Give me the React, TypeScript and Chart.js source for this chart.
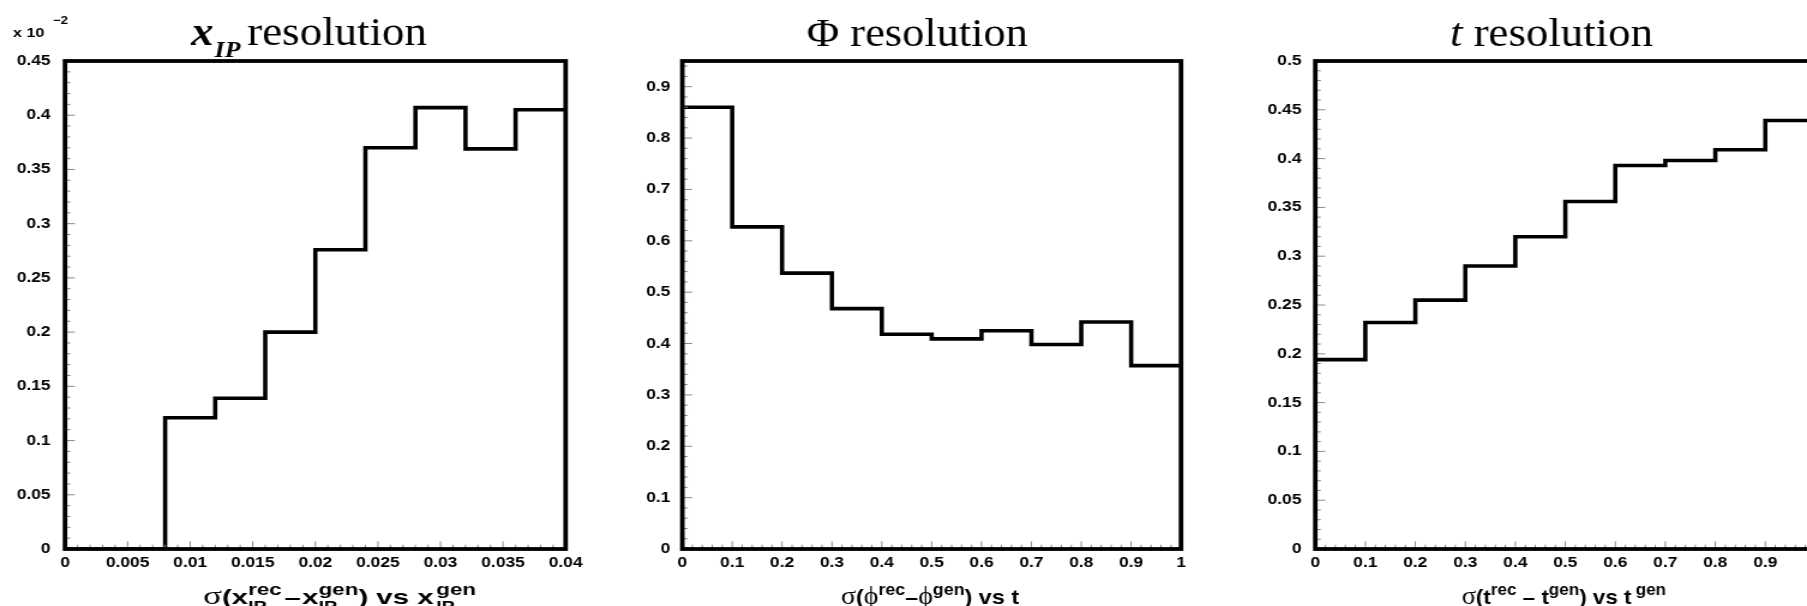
import React, { useEffect, useRef } from "react";
import { Chart, registerables } from "chart.js";

Chart.register(...registerables);

// ---------------- data ----------------
// Panel 1: x_IP resolution (values in units of 10^-2)
const xipEdges = [0, 0.004, 0.008, 0.012, 0.016, 0.02, 0.024, 0.028, 0.032, 0.036, 0.04];
const xipValues = [0, 0, 0.121, 0.139, 0.2, 0.276, 0.37, 0.407, 0.369, 0.405];
const xipXTicks = [0, 0.005, 0.01, 0.015, 0.02, 0.025, 0.03, 0.035, 0.04];
const xipXLabels = ["0", "0.005", "0.01", "0.015", "0.02", "0.025", "0.03", "0.035", "0.04"];
const xipYTicks = [0, 0.05, 0.1, 0.15, 0.2, 0.25, 0.3, 0.35, 0.4, 0.45];
const xipYLabels = ["0", "0.05", "0.1", "0.15", "0.2", "0.25", "0.3", "0.35", "0.4", "0.45"];

// Panel 2: Phi resolution
const phiEdges = [0, 0.1, 0.2, 0.3, 0.4, 0.5, 0.6, 0.7, 0.8, 0.9, 1];
const phiValues = [0.86, 0.627, 0.537, 0.468, 0.418, 0.409, 0.425, 0.398, 0.442, 0.357];
const phiXTicks = [0, 0.1, 0.2, 0.3, 0.4, 0.5, 0.6, 0.7, 0.8, 0.9, 1];
const phiXLabels = ["0", "0.1", "0.2", "0.3", "0.4", "0.5", "0.6", "0.7", "0.8", "0.9", "1"];
const phiYTicks = [0, 0.1, 0.2, 0.3, 0.4, 0.5, 0.6, 0.7, 0.8, 0.9];
const phiYLabels = ["0", "0.1", "0.2", "0.3", "0.4", "0.5", "0.6", "0.7", "0.8", "0.9"];

// Panel 3: t resolution
const tEdges = [0, 0.1, 0.2, 0.3, 0.4, 0.5, 0.6, 0.7, 0.8, 0.9, 1];
const tValues = [0.194, 0.232, 0.255, 0.29, 0.32, 0.356, 0.393, 0.398, 0.409, 0.439];
const tXTicks = [0, 0.1, 0.2, 0.3, 0.4, 0.5, 0.6, 0.7, 0.8, 0.9, 1];
const tXLabels = ["0", "0.1", "0.2", "0.3", "0.4", "0.5", "0.6", "0.7", "0.8", "0.9", "1"];
const tYTicks = [0, 0.05, 0.1, 0.15, 0.2, 0.25, 0.3, 0.35, 0.4, 0.45, 0.5];
const tYLabels = ["0", "0.05", "0.1", "0.15", "0.2", "0.25", "0.3", "0.35", "0.4", "0.45", "0.5"];

// ---------------- styling / layout ----------------
const SX = 1.2; // the original figure is stretched horizontally
const H = 606;
const SERIF = '"Liberation Serif", "DejaVu Serif", "Times New Roman", serif';
const SANS = '"Liberation Sans", Arial, Helvetica, sans-serif';
const MAIN = `bold 21px ${SANS}`;
const SUPF = `bold 16px ${SANS}`;
const SUBF = `bold 14px ${SANS}`;
const SYM = `25px ${SERIF}`;
const TTL = `40px ${SERIF}`;
const XT_BASE = 604;

type Seg = { t?: string; f?: string; dy?: number; gap?: number; sub?: string; sup?: string };

interface Panel {
  cssLeft: number;
  cssWidth: number;
  plotLeft: number;
  plotRight: number;
  edges: number[];
  values: number[];
  xTicks: number[];
  xLabels: string[];
  yTicks: number[];
  yLabels: string[];
  xMin: number;
  xMax: number;
  yMax: number;
  yPad: number;
  title: Seg[];
  titleCx: number;
  titleBase: number;
  titleW: number;
  xTitle: Seg[];
  xTitleCx: number;
  xTitleW: number;
  exponent?: boolean;
}

const panels: Panel[] = [
  {
    cssLeft: 0,
    cssWidth: 600,
    plotLeft: 65,
    plotRight: 565.6,
    edges: xipEdges,
    values: xipValues,
    xTicks: xipXTicks,
    xLabels: xipXLabels,
    yTicks: xipYTicks,
    yLabels: xipYLabels,
    xMin: 0,
    xMax: 0.04,
    yMax: 0.45,
    yPad: 12,
    title: [
      { t: "x", f: `italic bold 40px ${SERIF}` },
      { t: "IP", f: `italic bold 23px ${SERIF}`, dy: 12, gap: 1 },
      { t: "resolution", f: TTL, gap: 6 },
    ],
    titleCx: 309,
    titleBase: 45,
    titleW: 236,
    xTitle: [
      { t: "σ", f: SYM },
      { t: "(x", f: MAIN },
      { sub: "IP", sup: "rec" },
      { t: "–", f: MAIN, gap: 2 },
      { t: "x", f: MAIN, gap: 1 },
      { sub: "IP", sup: "gen" },
      { t: ") vs x", f: MAIN },
      { sub: "IP", sup: "gen", gap: 2 },
    ],
    xTitleCx: 339.6,
    xTitleW: 273,
    exponent: true,
  },
  {
    cssLeft: 600,
    cssWidth: 606,
    plotLeft: 682.3,
    plotRight: 1181,
    edges: phiEdges,
    values: phiValues,
    xTicks: phiXTicks,
    xLabels: phiXLabels,
    yTicks: phiYTicks,
    yLabels: phiYLabels,
    xMin: 0,
    xMax: 1,
    yMax: 0.95,
    yPad: 10,
    title: [{ t: "Φ resolution", f: TTL }],
    titleCx: 917.3,
    titleBase: 46,
    titleW: 221,
    xTitle: [
      { t: "σ", f: SYM },
      { t: "(", f: MAIN },
      { t: "ϕ", f: SYM },
      { sup: "rec" },
      { t: "–", f: MAIN },
      { t: "ϕ", f: SYM },
      { sup: "gen" },
      { t: ") vs t", f: MAIN },
    ],
    xTitleCx: 930,
    xTitleW: 178,
  },
  {
    cssLeft: 1207,
    cssWidth: 660,
    plotLeft: 1315.3,
    plotRight: 1815.3,
    edges: tEdges,
    values: tValues,
    xTicks: tXTicks,
    xLabels: tXLabels,
    yTicks: tYTicks,
    yLabels: tYLabels,
    xMin: 0,
    xMax: 1,
    yMax: 0.5,
    yPad: 11.5,
    title: [
      { t: "t", f: `italic 40px ${SERIF}` },
      { t: " resolution", f: TTL },
    ],
    titleCx: 1551.4,
    titleBase: 46,
    titleW: 203,
    xTitle: [
      { t: "σ", f: SYM },
      { t: "(t", f: MAIN },
      { sup: "rec" },
      { t: " – t", f: MAIN },
      { sup: "gen" },
      { t: ") vs t", f: MAIN },
      { sup: "gen", gap: 4 },
    ],
    xTitleCx: 1563.8,
    xTitleW: 204.5,
  },
];

function drawRich(ctx: CanvasRenderingContext2D, segs: Seg[], cx: number, base: number, targetW: number) {
  let w = 0;
  const items: { x: number; s: Seg }[] = [];
  for (const s of segs) {
    w += s.gap || 0;
    items.push({ x: w, s });
    if (s.t !== undefined) {
      ctx.font = s.f || MAIN;
      w += ctx.measureText(s.t).width;
    } else {
      let m = 0;
      if (s.sub) {
        ctx.font = SUBF;
        m = Math.max(m, ctx.measureText(s.sub).width);
      }
      if (s.sup) {
        ctx.font = SUPF;
        m = Math.max(m, ctx.measureText(s.sup).width);
      }
      w += m;
    }
  }
  const fit = Math.min(1.3, Math.max(0.75, targetW / w));
  ctx.save();
  ctx.translate(cx - (w * fit) / 2, base);
  ctx.scale(fit, 1);
  ctx.fillStyle = "#000";
  ctx.textAlign = "left";
  ctx.textBaseline = "alphabetic";
  for (const it of items) {
    const s = it.s;
    if (s.t !== undefined) {
      ctx.font = s.f || MAIN;
      ctx.fillText(s.t, it.x, s.dy || 0);
    } else {
      if (s.sub) {
        ctx.font = SUBF;
        ctx.fillText(s.sub, it.x, 7);
      }
      if (s.sup) {
        ctx.font = SUPF;
        ctx.fillText(s.sup, it.x, -9);
      }
    }
  }
  ctx.restore();
}

function makeDecor(p: Panel) {
  return {
    id: "decor",
    afterDatasetsDraw(chart: any) {
      const { ctx, chartArea: a } = chart;
      const xs = chart.scales.x;
      const ys = chart.scales.y;
      const toX = (css: number) => (css - p.cssLeft) / SX;
      ctx.save();
      // inward tick marks (ROOT style)
      ctx.strokeStyle = "#8a8a8a";
      ctx.lineWidth = 1;
      ctx.beginPath();
      const xStep = (p.xTicks[1] - p.xTicks[0]) / 5;
      const nx = Math.floor((p.xMax - p.xMin) / xStep + 1e-6);
      for (let k = 0; k <= nx; k++) {
        const px = xs.getPixelForValue(p.xMin + k * xStep);
        ctx.moveTo(px, a.bottom);
        ctx.lineTo(px, a.bottom - (k % 5 === 0 ? 7.7 : 4.3));
      }
      const yStep = (p.yTicks[1] - p.yTicks[0]) / 5;
      const ny = Math.floor(p.yMax / yStep + 1e-6);
      for (let k = 0; k <= ny; k++) {
        const py = ys.getPixelForValue(k * yStep);
        ctx.moveTo(a.left, py);
        ctx.lineTo(a.left + (k % 5 === 0 ? 8.3 : 4.6), py);
      }
      ctx.stroke();
      // frame
      ctx.strokeStyle = "#000";
      ctx.lineWidth = 3.8;
      ctx.strokeRect(a.left, a.top, a.right - a.left, a.bottom - a.top);
      // titles
      drawRich(ctx, p.title, toX(p.titleCx), p.titleBase, p.titleW / SX);
      drawRich(ctx, p.xTitle, toX(p.xTitleCx), XT_BASE, p.xTitleW / SX);
      if (p.exponent) {
        ctx.fillStyle = "#000";
        ctx.textAlign = "left";
        ctx.textBaseline = "alphabetic";
        ctx.font = `bold 13.5px ${SANS}`;
        ctx.fillText("x 10", toX(13), 37);
        ctx.font = `bold 11px ${SANS}`;
        ctx.fillText("−2", toX(53), 24);
      }
      ctx.restore();
    },
  };
}

function PanelChart({ p }: { p: Panel }) {
  const ref = useRef<HTMLCanvasElement>(null);
  const iw = Math.round(p.cssWidth / SX);
  useEffect(() => {
    if (!ref.current) return;
    const pts = p.values.map((v, i) => ({ x: p.edges[i], y: v }));
    pts.push({ x: p.edges[p.edges.length - 1], y: p.values[p.values.length - 1] });
    const yAxisW = (p.plotLeft - p.cssLeft) / SX;
    const padR = iw - (p.plotRight - p.cssLeft) / SX;
    const tickFont = { family: SANS, size: 14.5, weight: "bold" as const };
    const chart = new Chart(ref.current, {
      type: "line",
      data: {
        datasets: [
          {
            data: pts,
            borderColor: "#000",
            borderWidth: 3.6,
            pointRadius: 0,
            stepped: "before",
            fill: false,
            tension: 0,
          },
        ],
      },
      options: {
        responsive: false,
        maintainAspectRatio: false,
        animation: false,
        layout: { padding: { left: 0, right: padR, top: 61, bottom: 0 } },
        plugins: {
          legend: { display: false },
          tooltip: { enabled: false },
          title: { display: false },
        },
        scales: {
          x: {
            type: "linear",
            min: p.xMin,
            max: p.xMax,
            grid: { display: false, drawTicks: false },
            border: { display: false },
            afterBuildTicks: (s: any) => {
              s.ticks = p.xTicks.map((v) => ({ value: v }));
            },
            afterFit: (s: any) => {
              s.height = 57;
            },
            ticks: {
              autoSkip: false,
              maxRotation: 0,
              minRotation: 0,
              padding: 5,
              color: "#000",
              font: tickFont,
              callback: (_v: any, i: number) => p.xLabels[i],
            },
          },
          y: {
            type: "linear",
            min: 0,
            max: p.yMax,
            grid: { display: false, drawTicks: false },
            border: { display: false },
            afterBuildTicks: (s: any) => {
              s.ticks = p.yTicks.map((v) => ({ value: v }));
            },
            afterFit: (s: any) => {
              s.width = yAxisW;
            },
            ticks: {
              autoSkip: false,
              padding: p.yPad,
              color: "#000",
              font: tickFont,
              callback: (_v: any, i: number) => p.yLabels[i],
            },
          },
        },
      } as any,
      plugins: [makeDecor(p)],
    });
    return () => chart.destroy();
  }, []);
  return (
    <canvas
      ref={ref}
      width={iw}
      height={H}
      style={{ position: "absolute", left: p.cssLeft, top: 0, width: p.cssWidth, height: H }}
    />
  );
}

export default function App() {
  return (
    <div
      style={{
        position: "fixed",
        left: 0,
        top: 0,
        width: 1807,
        height: 606,
        overflow: "hidden",
        background: "#fff",
      }}
    >
      {panels.map((p, i) => (
        <PanelChart key={i} p={p} />
      ))}
    </div>
  );
}
